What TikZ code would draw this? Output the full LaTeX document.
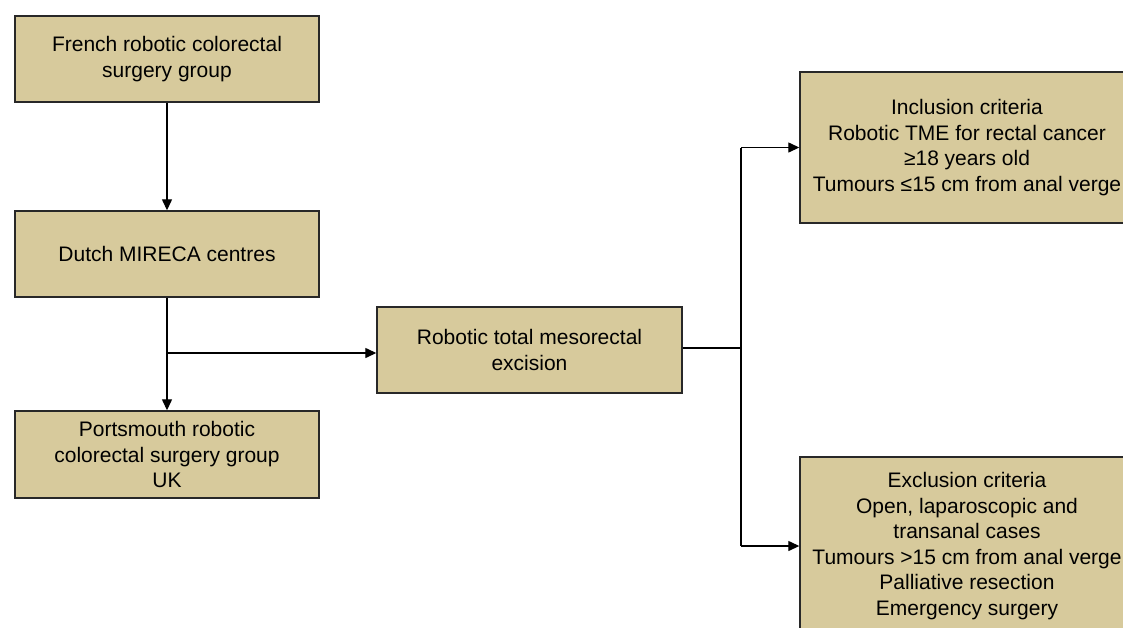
\documentclass[tikz,border=0pt]{standalone}
\usepackage{fontspec}
\setmainfont{Liberation Sans}
\usetikzlibrary{arrows.meta}
\definecolor{boxfill}{RGB}{215,202,156}
\definecolor{boxline}{RGB}{40,40,40}
\tikzset{
  flowbox/.style={draw=boxline, line width=1.4pt, fill=boxfill, align=center, inner sep=0pt,
    font=\fontsize{21}{25.6}\selectfont, text=black},
  conn/.style={line width=1.3pt, black},
  arr/.style={conn, -{Triangle[length=11pt,width=10pt]}}
}
\begin{document}
\begin{tikzpicture}[x=1pt,y=-1pt]
\clip (0,0) rectangle (1123,627);
\fill[white] (0,0) rectangle (1123,627);
\node[flowbox, minimum width=304pt, minimum height=86pt] (french) at (167,59) {French robotic colorectal\\surgery group};
\node[flowbox, minimum width=304pt, minimum height=86pt] (dutch) at (167,254) {Dutch MIRECA centres};
\node[flowbox, minimum width=304pt, minimum height=87pt] (ports) at (167,454.5) {Portsmouth robotic\\colorectal surgery group\\UK};
\node[flowbox, minimum width=305pt, minimum height=86pt] (rtme) at (529.5,350) {Robotic total mesorectal\\excision};
\node[flowbox, minimum width=334pt, minimum height=151pt] (incl) at (967,147.5) {Inclusion criteria\\Robotic TME for rectal cancer\\≥18 years old\\Tumours ≤15 cm from anal verge};
\node[flowbox, minimum width=334pt, minimum height=178pt] (excl) at (967,546) {Exclusion criteria\\Open, laparoscopic and\\transanal cases\\Tumours >15 cm from anal verge\\Palliative resection\\Emergency surgery};
\coordinate (branch) at (167,353);
\coordinate (junc) at (741,348);
\draw[arr] (french.south) -- (dutch.north);
\draw[arr] (dutch.south) -- (ports.north);
\draw[arr] (branch) -- (branch -| rtme.west);
\draw[conn] (junc -| rtme.east) -- (junc);
\draw[conn] (junc |- incl.west) -- (junc |- excl.west);
\draw[arr] (junc |- incl.west) -- (incl.west);
\draw[arr] (junc |- excl.west) -- (excl.west);
\end{tikzpicture}
\end{document}
